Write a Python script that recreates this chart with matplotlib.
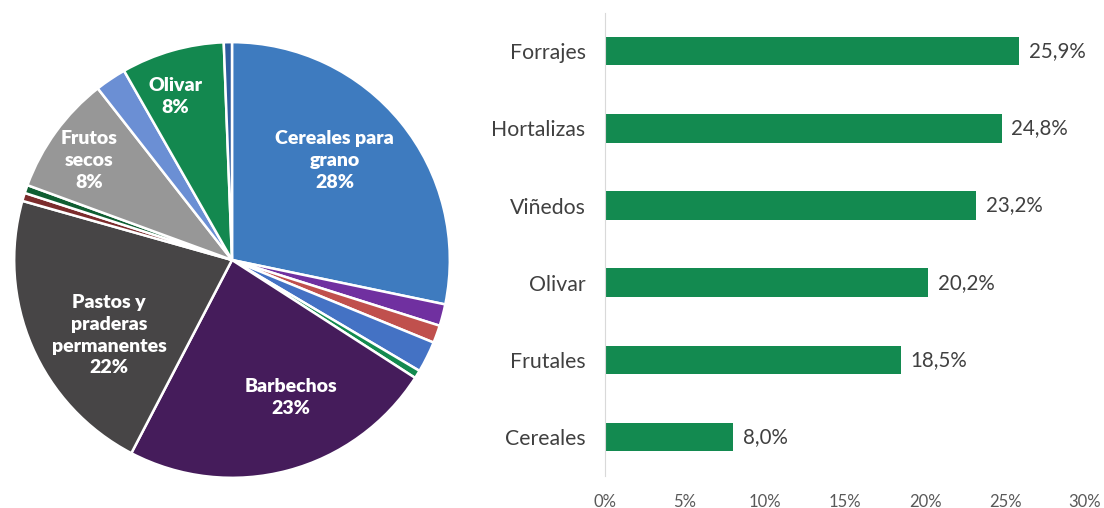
import matplotlib.pyplot as plt

# pie: land use shares (clockwise from 12 o'clock)
pie_values = [28.1, 1.6, 1.3, 2.3, 0.6, 23.4, 21.6, 0.6, 0.6, 8.8, 2.3, 7.6, 0.6]
pie_colors = ["#3E7BBF", "#7030A0", "#C0504D", "#4472C4", "#138A4F",
              "#451C5B", "#474546", "#7B2C2C", "#0F5E32", "#979797",
              "#6B8FD4", "#13884F", "#2E5C9E"]
pie_labels = ["Cereales para\ngrano\n28%", "", "", "", "",
              "Barbechos\n23%", "Pastos y\npraderas\npermanentes\n22%", "", "",
              "Frutos\nsecos\n8%", "", "Olivar\n8%", ""]
# where each label sits (data coords of the unit pie)
label_pos = {0: (0.47, 0.455), 5: (0.27, -0.63), 6: (-0.565, -0.345),
             9: (-0.655, 0.455), 11: (-0.26, 0.75)}

# bars: share by crop
crops = ["Forrajes", "Hortalizas", "Viñedos", "Olivar", "Frutales", "Cereales"]
shares = [25.9, 24.8, 23.2, 20.2, 18.5, 8.0]
xticks = [0, 5, 10, 15, 20, 25, 30]

plt.rcParams['font.family'] = ['Lato', 'DejaVu Sans']
fig = plt.figure(figsize=(11.04, 5.08), dpi=100)

ax1 = fig.add_axes([12 / 1104, 28 / 508, 440 / 1104, 440 / 508])
ax1.pie(pie_values, colors=pie_colors, startangle=90, counterclock=False,
        radius=1, wedgeprops=dict(edgecolor="white", linewidth=1.8))
for i, (x, y) in label_pos.items():
    ax1.text(x, y, pie_labels[i], ha="center", va="center", color="white",
             fontsize=14, fontweight="heavy", linespacing=1.35)
ax1.set_xlim(-1.01, 1.01)
ax1.set_ylim(-1.01, 1.01)
ax1.set_aspect("equal")
ax1.axis("off")

ax2 = fig.add_axes([605 / 1104, 32.4 / 508, 480 / 1104, 463 / 508])
ypos = list(range(len(crops)))
ax2.barh(ypos, shares, height=0.37, color="#138A50")
for y, v in zip(ypos, shares):
    ax2.text(v + 0.6, y, "{:.1f}%".format(v).replace(".", ","), ha="left",
             va="center", fontsize=14.8, color="#404040")
ax2.set_ylim(len(crops) - 0.5, -0.5)
ax2.set_xlim(0, 30)
ax2.set_yticks(ypos)
ax2.set_yticklabels(crops, fontsize=15.3, color="#404040")
ax2.set_xticks(xticks)
ax2.set_xticklabels(["{}%".format(t) for t in xticks], fontsize=12, color="#595959")
ax2.tick_params(axis="both", length=0)
ax2.tick_params(axis="y", pad=14)
ax2.tick_params(axis="x", pad=13)
for s in ["top", "right", "bottom"]:
    ax2.spines[s].set_visible(False)
ax2.spines["left"].set_color("#D9D9D9")

fig.savefig("out.png", dpi=100)
